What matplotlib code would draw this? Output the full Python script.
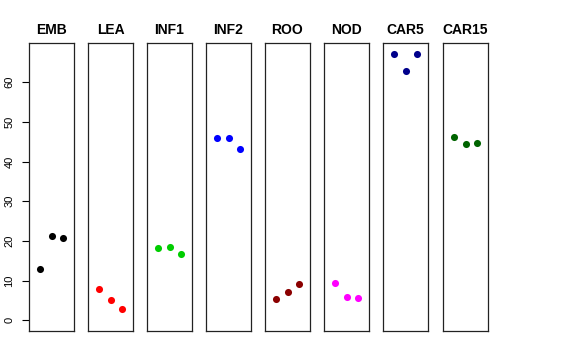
import matplotlib
matplotlib.use("Agg")
import matplotlib.pyplot as plt

plt.rcParams['font.family'] = ['Liberation Sans', 'DejaVu Sans']

tissues = ["EMB", "LEA", "INF1", "INF2", "ROO", "NOD", "CAR5", "CAR15"]
colors = ["#000000", "#FF0000", "#00CD00", "#0000FF", "#8B0000", "#FF00FF", "#00008B", "#006400"]
values = {
    "EMB": [13.0, 21.2, 20.7],
    "LEA": [7.8, 5.0, 2.9],
    "INF1": [18.1, 18.4, 16.8],
    "INF2": [45.9, 45.9, 43.2],
    "ROO": [5.3, 7.2, 9.2],
    "NOD": [9.5, 5.8, 5.5],
    "CAR5": [67.1, 62.8, 67.1],
    "CAR15": [46.2, 44.4, 44.7],
}
reps = [1, 2, 3]
yticks = [0, 10, 20, 30, 40, 50, 60]

W, H = 576, 360
fig = plt.figure(figsize=(W / 100, H / 100), dpi=100)
lefts = [29, 88, 147, 206, 265, 324, 383, 443]
pw = 45
top, bottom = 43, 331
for i, (t, c, x0) in enumerate(zip(tissues, colors, lefts)):
    ax = fig.add_axes([x0 / W, 1 - bottom / H, pw / W, (bottom - top) / H])
    ax.scatter(reps, values[t], s=26, color=c, zorder=3, linewidths=0)
    ax.set_xlim(0, 4)
    ax.set_ylim(-2.7, 69.9)
    ax.set_xticks([])
    for s in ax.spines.values():
        s.set_linewidth(0.9)
        s.set_color("#222222")
    ax.set_title(t, fontsize=10, fontweight="bold", pad=6.5)
    if i == 0:
        ax.set_yticks(yticks)
        ax.set_yticklabels([str(v) for v in yticks], rotation=90, va="center", fontsize=8)
        ax.tick_params(axis="y", length=5, width=0.8, pad=5.5)
    else:
        ax.set_yticks([])

fig.savefig("out.png", dpi=100)
